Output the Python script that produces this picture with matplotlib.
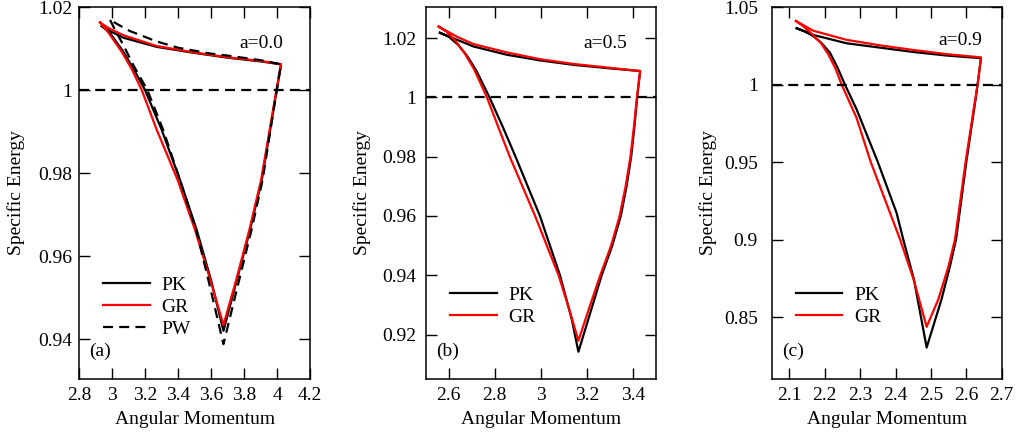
import matplotlib
matplotlib.use("Agg")
import matplotlib.pyplot as plt
from matplotlib.ticker import FuncFormatter

plt.rcParams['font.family'] = ['Liberation Serif', 'DejaVu Serif']
plt.rcParams['font.size'] = 14

# ---- panel (a), a=0.0 ----
a_pk_L = [2.938, 2.988, 3.069, 3.129, 3.200, 3.301, 3.412, 3.513, 3.600, 3.675,
          3.756, 3.836, 3.907, 3.958, 3.998, 4.024,
          3.900, 3.700, 3.490, 3.271, 3.069, 2.988, 2.938]
a_pk_E = [1.0154, 1.0137, 1.0092, 1.0052, 1.0, 0.9904, 0.9783, 0.9663, 0.9542, 0.9420,
          0.9542, 0.9663, 0.9783, 0.9904, 1.0, 1.0062,
          1.0069, 1.0078, 1.0090, 1.0104, 1.0126, 1.0142, 1.0154]
a_gr_L = [2.927, 2.975, 3.059, 3.120, 3.180, 3.271, 3.398, 3.503, 3.596, 3.675,
          3.752, 3.832, 3.903, 3.955, 3.996, 4.024,
          3.900, 3.700, 3.490, 3.271, 3.069, 2.975, 2.927]
a_gr_E = [1.0163, 1.0140, 1.0092, 1.0050, 1.0, 0.9904, 0.9783, 0.9663, 0.9542, 0.9434,
          0.9542, 0.9663, 0.9783, 0.9904, 1.0, 1.0062,
          1.0070, 1.0079, 1.0091, 1.0106, 1.0132, 1.0150, 1.0163]
a_pw_L = [2.988, 3.018, 3.069, 3.129, 3.214, 3.310, 3.412, 3.510, 3.584, 3.675,
          3.770, 3.845, 3.912, 3.960, 3.998, 4.024,
          3.900, 3.700, 3.594, 3.400, 3.271, 3.109, 3.040, 2.988]
a_pw_E = [1.0169, 1.0145, 1.0108, 1.0060, 1.0, 0.9904, 0.9783, 0.9663, 0.9542, 0.9388,
          0.9542, 0.9663, 0.9783, 0.9904, 1.0, 1.0062,
          1.0072, 1.0083, 1.0088, 1.0102, 1.0117, 1.0142, 1.0157, 1.0169]

# ---- panel (b), a=0.5 ----
b_pk_L = [2.562, 2.600, 2.640, 2.680, 2.720, 2.777, 2.835, 2.890, 2.996, 3.083, 3.134, 3.163,
          3.214, 3.264, 3.310, 3.347, 3.372, 3.392, 3.406, 3.418, 3.431,
          3.286, 3.141, 2.996, 2.852, 2.707, 2.562]
b_pk_E = [1.0218, 1.0205, 1.0178, 1.0140, 1.0090, 1.0, 0.9900, 0.98, 0.96, 0.94, 0.9252, 0.9142,
          0.9272, 0.94, 0.95, 0.96, 0.97, 0.98, 0.99, 1.0, 1.0089,
          1.0099, 1.0110, 1.0125, 1.0144, 1.0172, 1.0218]
b_gr_L = [2.556, 2.590, 2.630, 2.670, 2.710, 2.766, 2.815, 2.865, 2.975, 3.077, 3.125, 3.163,
          3.210, 3.258, 3.305, 3.342, 3.368, 3.389, 3.404, 3.417, 3.431,
          3.286, 3.141, 2.996, 2.852, 2.707, 2.635, 2.556]
b_gr_E = [1.0239, 1.0222, 1.0190, 1.0148, 1.0095, 1.0, 0.9900, 0.98, 0.96, 0.94, 0.9280, 0.9179,
          0.9290, 0.94, 0.95, 0.96, 0.97, 0.98, 0.99, 1.0, 1.0089,
          1.0101, 1.0113, 1.0129, 1.0152, 1.0180, 1.0205, 1.0239]

# ---- panel (c), a=0.9 ----
c_pk_L = [2.1207, 2.145, 2.1676, 2.190, 2.2148, 2.236, 2.257, 2.290, 2.350, 2.403, 2.422,
          2.452, 2.488,
          2.530, 2.554, 2.571, 2.601, 2.626, 2.632, 2.6415,
          2.5445, 2.450, 2.356, 2.262, 2.1676, 2.1207]
c_pk_E = [1.0363, 1.0342, 1.0312, 1.0270, 1.0205, 1.0110, 1.0, 0.984, 0.95, 0.9172, 0.9,
          0.8743, 0.8303,
          0.8614, 0.8829, 0.9, 0.9515, 0.9901, 1.0, 1.0170,
          1.0187, 1.0210, 1.0238, 1.0266, 1.0320, 1.0363]
c_gr_L = [2.1187, 2.140, 2.167, 2.190, 2.210, 2.230, 2.2478, 2.290, 2.330, 2.413, 2.451, 2.488,
          2.521, 2.550, 2.568, 2.599, 2.625, 2.632, 2.6415,
          2.5445, 2.450, 2.356, 2.262, 2.1676, 2.1187]
c_gr_E = [1.0410, 1.0375, 1.0320, 1.0265, 1.0195, 1.0105, 1.0, 0.9784, 0.95, 0.9, 0.8743, 0.8437,
          0.8614, 0.8829, 0.9, 0.9515, 0.9901, 1.0, 1.0175,
          1.0196, 1.0223, 1.0253, 1.0288, 1.0347, 1.0410]

a_xticks = [2.8, 3.0, 3.2, 3.4, 3.6, 3.8, 4.0, 4.2]
a_yticks = [0.94, 0.96, 0.98, 1.0, 1.02]
b_xticks = [2.6, 2.8, 3.0, 3.2, 3.4]
b_yticks = [0.92, 0.94, 0.96, 0.98, 1.0, 1.02]
c_xticks = [2.1, 2.2, 2.3, 2.4, 2.5, 2.6, 2.7]
c_yticks = [0.85, 0.9, 0.95, 1.0, 1.05]

fig = plt.figure(figsize=(10.16, 4.36), dpi=100)
bottom, height = 0.1307, 0.8532
ax1 = fig.add_axes([0.0778, bottom, 0.2274, height])
ax2 = fig.add_axes([0.4190, bottom, 0.2267, height])
ax3 = fig.add_axes([0.7595, bottom, 0.2264, height])

lw = 1.6
dash = (0, (4.5, 2.8))
fmt = FuncFormatter(lambda v, p: ('%g' % round(v, 3)))

ax1.plot(a_pk_L, a_pk_E, color='black', lw=lw, label='PK')
ax1.plot(a_gr_L, a_gr_E, color='#ff0000', lw=lw, label='GR')
ax1.plot(a_pw_L, a_pw_E, color='black', lw=lw, ls=dash, label='PW')
ax1.set_xlim(2.8, 4.2)
ax1.set_ylim(0.9304, 1.02)
ax1.set_xticks(a_xticks)
ax1.set_yticks(a_yticks)

ax2.plot(b_pk_L, b_pk_E, color='black', lw=lw, label='PK')
ax2.plot(b_gr_L, b_gr_E, color='#ff0000', lw=lw, label='GR')
ax2.set_xlim(2.5, 3.5)
ax2.set_ylim(0.905, 1.0305)
ax2.set_xticks(b_xticks)
ax2.set_yticks(b_yticks)

ax3.plot(c_pk_L, c_pk_E, color='black', lw=lw, label='PK')
ax3.plot(c_gr_L, c_gr_E, color='#ff0000', lw=lw, label='GR')
ax3.set_xlim(2.05, 2.7)
ax3.set_ylim(0.81, 1.05)
ax3.set_xticks(c_xticks)
ax3.set_yticks(c_yticks)

panels = [(ax1, 'a=0.0', 0.883, 0.903, '(a)', 0.276, 5),
          (ax2, 'a=0.5', 0.874, 0.903, '(b)', 0.249, 7),
          (ax3, 'a=0.9', 0.914, 0.910, '(c)', 0.249, 10)]
for ax, lab, tx, ty, tag, legy, pad in panels:
    ax.axhline(1.0, color='black', lw=lw, ls=dash)
    ax.text(tx, ty, lab, transform=ax.transAxes, ha='right', va='center')
    ax.text(0.045, 0.075, tag, transform=ax.transAxes, ha='left', va='center')
    ax.tick_params(direction='in', top=True, right=True, length=8, width=1)
    ax.tick_params(axis='y', pad=pad)
    ax.tick_params(axis='x', pad=6)
    ax.xaxis.set_major_formatter(fmt)
    ax.yaxis.set_major_formatter(fmt)
    for s in ax.spines.values():
        s.set_linewidth(1.1)
    ax.set_xlabel('Angular Momentum')
    ax.set_ylabel('Specific Energy')
    ax.xaxis.set_label_coords(0.5, -0.085)
    ax.yaxis.set_label_coords(-0.236, 0.5)
    ax.legend(loc='upper left', bbox_to_anchor=(0.105, legy), frameon=False,
              borderpad=0, borderaxespad=0, handlelength=2.4,
              handletextpad=0.6, labelspacing=0.22)

plt.savefig('out.png', dpi=100)
